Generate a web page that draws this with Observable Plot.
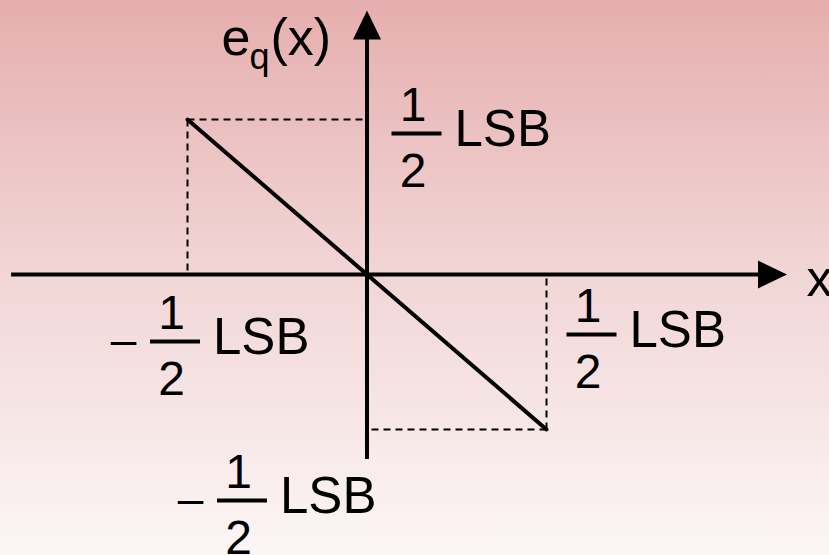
<!DOCTYPE html>
<html>
<head>
<meta charset="utf-8">
<script src="https://cdn.jsdelivr.net/npm/d3@7"></script>
<script src="https://cdn.jsdelivr.net/npm/@observablehq/plot@0.6"></script>
<style>
  html, body { margin: 0; padding: 0; }
  #chart {
    width: 829px; height: 555px; overflow: hidden;
    background: linear-gradient(to bottom, #e6aeae 0%, #f2d6d6 50%, #fcf6f6 100%);
  }
  #chart svg { display: block; }
</style>
</head>
<body>
<div id="chart"></div>
<script>
// ---- data (units: LSB) ----
// quantisation error e_q(x) over one step: a straight line from (-1/2, +1/2) to (+1/2, -1/2)
const errX = [-0.5, 0.5];
const errY = [0.5, -0.5];
// extent of the drawn axes (tip of arrow included)
const xAxisExtent = [-0.99, 1.17];
const yAxisExtent = [-0.597, 0.852];
// where the axis stroke stops (the arrowhead covers the rest)
const xAxisLineEnd = [1.11];
const yAxisLineEnd = [0.78];
// tick label values and text
const xTickValues = [-0.5, 0.5];
const yTickValues = [0.5, -0.5];
const tickNumerator = ["1"];
const tickDenominator = ["2"];
const tickUnit = ["LSB"];
const tickMinus = ["\u2013"];
const xAxisName = ["x"];
const yAxisName = ["e", "q", "(x)"];

// ---- derived tables ----
const err = errX.map((x, i) => ({x, y: errY[i]}));
const FONT = "'Liberation Sans', Arial, Helvetica, sans-serif";

const arrowRight = {draw(ctx) { ctx.moveTo(0, 0); ctx.lineTo(-29, -14); ctx.lineTo(-29, 14); ctx.closePath(); }};
const arrowUp = {draw(ctx) { ctx.moveTo(0, 0); ctx.lineTo(-14, 29); ctx.lineTo(14, 29); ctx.closePath(); }};
const fracBar = {draw(ctx) { ctx.rect(-25, -2, 50, 4); }};

// fraction label "(−) 1/2 LSB" placed at an anchor point with a layout offset (bx, by) of its fraction bar
function fractionLabel(anchor, bx, by) {
  const negative = anchor.x < 0 || anchor.y < 0;
  const d = [anchor];
  const base = {x: "x", y: "y", fontFamily: FONT, fill: "black"};
  const marks = [
    Plot.dot(d, {x: "x", y: "y", symbol: fracBar, fill: "black", stroke: "none", dx: bx, dy: by}),
    Plot.text(d, {...base, text: () => tickNumerator[0], fontSize: 48, textAnchor: "middle", lineAnchor: "bottom", dx: bx - 3.5, dy: by - 12.5}),
    Plot.text(d, {...base, text: () => tickDenominator[0], fontSize: 48, textAnchor: "middle", lineAnchor: "bottom", dx: bx - 3.5, dy: by + 53}),
    Plot.text(d, {...base, text: () => tickUnit[0], fontSize: 51, textAnchor: "start", lineAnchor: "bottom", dx: bx + 38, dy: by + 12.5})
  ];
  if (negative) {
    marks.push(Plot.text(d, {...base, text: () => tickMinus[0], fontSize: 46, textAnchor: "middle", lineAnchor: "bottom", dx: bx - 51.5, dy: by + 13}));
  }
  return marks;
}

const xTicks = xTickValues.map(v => ({x: v, y: 0}));
const yTicks = yTickValues.map(v => ({x: 0, y: v}));
const xTip = [{x: xAxisExtent[1], y: 0}];
const yTip = [{x: 0, y: yAxisExtent[1]}];

const chart = Plot.plot({
  width: 829,
  height: 555,
  margin: 0,
  style: {background: "transparent", overflow: "visible"},
  x: {domain: [-0.5, 0.5], range: [187, 546], axis: null},
  y: {domain: [-0.5, 0.5], range: [429, 119], axis: null},
  marks: [
    // dashed guides from the line's end points to the axes
    Plot.link(err, {x1: "x", y1: "y", x2: () => 0, y2: "y", stroke: "black", strokeWidth: 2, strokeDasharray: "7,5"}),
    Plot.link(err, {x1: "x", y1: "y", x2: "x", y2: () => 0, stroke: "black", strokeWidth: 2, strokeDasharray: "7,5"}),
    // axes
    Plot.ruleY([0], {x1: xAxisExtent[0], x2: xAxisLineEnd[0], stroke: "black", strokeWidth: 4}),
    Plot.ruleX([0], {y1: yAxisExtent[0], y2: yAxisLineEnd[0], stroke: "black", strokeWidth: 4}),
    Plot.dot(xTip, {x: "x", y: "y", symbol: arrowRight, fill: "black", stroke: "none"}),
    Plot.dot(yTip, {x: "x", y: "y", symbol: arrowUp, fill: "black", stroke: "none"}),
    // the error function
    Plot.line(err, {x: "x", y: "y", stroke: "black", strokeWidth: 4}),
    // axis names
    Plot.text(xTip, {x: "x", y: "y", text: () => xAxisName[0], fontFamily: FONT, fontSize: 52, textAnchor: "start", lineAnchor: "bottom", dx: 19.5, dy: 21}),
    Plot.text(yTip, {x: "x", y: "y", text: () => yAxisName[0], fontFamily: FONT, fontSize: 52, textAnchor: "start", lineAnchor: "bottom", dx: -145.5, dy: 45}),
    Plot.text(yTip, {x: "x", y: "y", text: () => yAxisName[1], fontFamily: FONT, fontSize: 36, textAnchor: "start", lineAnchor: "bottom", dx: -117.5, dy: 59}),
    Plot.text(yTip, {x: "x", y: "y", text: () => yAxisName[2], fontFamily: FONT, fontSize: 52, textAnchor: "start", lineAnchor: "bottom", dx: -96.5, dy: 45}),
    // tick labels
    ...fractionLabel(yTicks[0], 49.5, 14),
    ...fractionLabel(xTicks[0], -12.5, 67),
    ...fractionLabel(xTicks[1], 45, 60),
    ...fractionLabel(yTicks[1], -125, 71)
  ]
});
document.getElementById("chart").appendChild(chart);
</script>
</body>
</html>
